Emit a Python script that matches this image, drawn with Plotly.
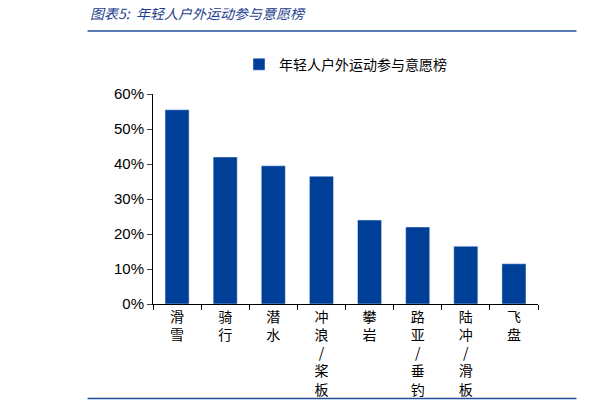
import plotly.graph_objects as go

categories = ["滑雪", "骑行", "潜水", "冲浪/桨板", "攀岩", "路亚/垂钓", "陆冲/滑板", "飞盘"]
values = [0.555, 0.42, 0.395, 0.365, 0.24, 0.22, 0.165, 0.115]
series_name = "年轻人户外运动参与意愿榜"
tick_vals = [0, 0.1, 0.2, 0.3, 0.4, 0.5, 0.6]
tick_text = ["0%", "10%", "20%", "30%", "40%", "50%", "60%"]

def vert(s):
    return "<br>".join(list(s))

font = "Noto Sans CJK SC"
blue = "#003f98"
fig = go.Figure(go.Bar(x=[vert(c) for c in categories], y=values, name=series_name,
                       marker_color=blue, width=0.5, showlegend=True))
fig.update_layout(
    width=612, height=409, paper_bgcolor="white", plot_bgcolor="white",
    margin=dict(l=145, r=82, t=86, b=113, autoexpand=False),
    font=dict(family=font, size=14, color="black"),
    legend=dict(orientation="h", x=0.5, xanchor="center", y=1.14, yanchor="middle",
                font=dict(size=14), itemwidth=30),
    bargap=0.5,
    xaxis=dict(showline=True, linecolor="black", ticks="outside", tickson="boundaries",
               ticklen=5, tickcolor="black", tickfont=dict(size=14)),
    yaxis=dict(range=[0, 0.6], tickvals=tick_vals, ticktext=tick_text, showline=True,
               linecolor="black", ticks="outside", ticklen=5, showgrid=False,
               tickfont=dict(size=15, family="Liberation Sans")),
    shapes=[
        dict(type="line", xref="paper", yref="paper", x0=-0.17, x1=1.1, y0=1.3, y1=1.3,
             line=dict(color="#1f4e9c", width=1.5)),
        dict(type="line", xref="paper", yref="paper", x0=-0.17, x1=1.1, y0=-0.45, y1=-0.45,
             line=dict(color="#1f4e9c", width=1.5)),
    ],
    annotations=[
        dict(text="<i>图表5:  年轻人户外运动参与意愿榜</i>", xref="paper", yref="paper",
             x=-0.17, y=1.33, xanchor="left", yanchor="bottom", showarrow=False,
             font=dict(size=14, color="#1f3f8f")),
        dict(text="<i>资料来源: 洺搏《中国泛年轻人群运动消费白皮书》, 国盛证券研究所</i>",
             xref="paper", yref="paper", x=-0.17, y=-0.47, xanchor="left", yanchor="top",
             showarrow=False, font=dict(size=13, color="#1f3f8f")),
    ],
)
fig.write_html("out.html")
